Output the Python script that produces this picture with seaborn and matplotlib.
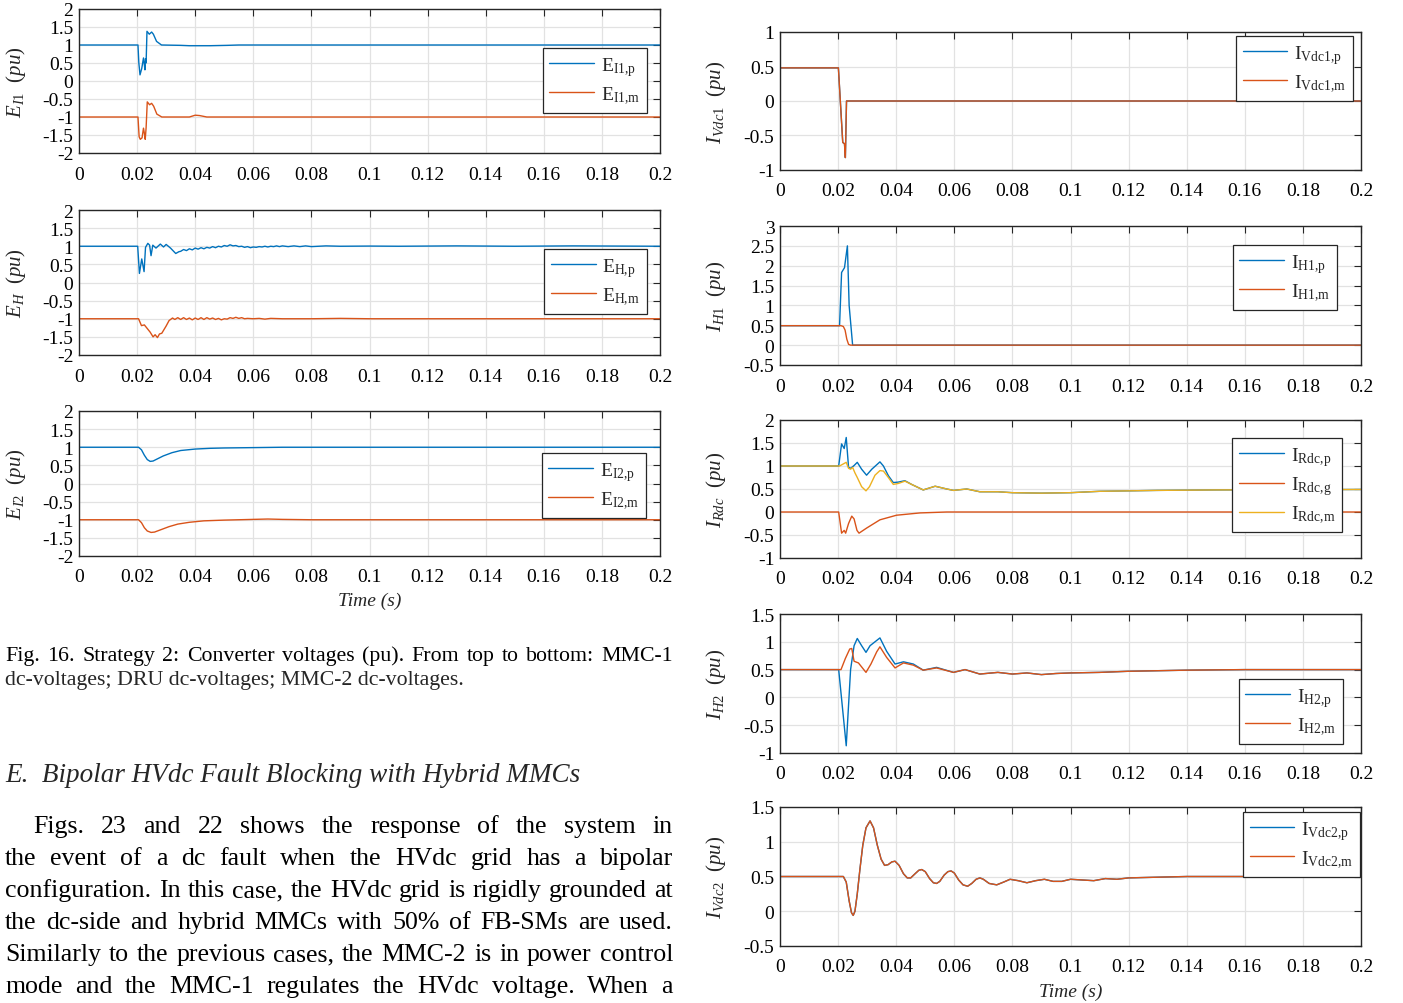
import matplotlib
matplotlib.use("Agg")
import numpy as np
import pandas as pd
import matplotlib.pyplot as plt
import seaborn as sns

# ---------------------------------------------------------------- data
x_ticks = [0, 0.02, 0.04, 0.06, 0.08, 0.1, 0.12, 0.14, 0.16, 0.18, 0.2]
x_tick_labels = ["0", "0.02", "0.04", "0.06", "0.08", "0.1", "0.12", "0.14", "0.16", "0.18", "0.2"]

# MMC-1 dc voltages
t_EI1_p = [0, 0.0203, 0.0206, 0.0210, 0.0216, 0.0222, 0.0225, 0.0227, 0.0229, 0.0231, 0.0234,
           0.0242, 0.0250, 0.0256, 0.0267, 0.0284, 0.035, 0.038, 0.045, 0.051, 0.055, 0.2]
v_EI1_p = [1.0, 1.0, 0.5, 0.17, 0.35, 0.64, 0.45, 0.31, 0.62, 0.50, 1.38,
           1.30, 1.36, 1.30, 1.10, 1.0, 0.99, 0.98, 0.98, 0.99, 1.0, 1.0]
t_EI1_m = [0, 0.0203, 0.0207, 0.0211, 0.0217, 0.0222, 0.0225, 0.0228, 0.0231, 0.0235,
           0.0243, 0.0250, 0.0257, 0.0268, 0.0285, 0.038, 0.040, 0.0415, 0.044, 0.2]
v_EI1_m = [-1.0, -1.0, -1.55, -1.62, -1.58, -1.31, -1.45, -1.62, -1.30, -0.58,
           -0.66, -0.62, -0.70, -0.92, -1.0, -1.0, -0.95, -0.96, -1.0, -1.0]

# DRU dc voltages
t_EH_p = [0, 0.0202, 0.0208, 0.0216, 0.0224, 0.0229, 0.0237, 0.0243, 0.0248, 0.0254, 0.0265,
          0.0280, 0.0291, 0.0300, 0.0315, 0.0333, 0.0344,
          0.035, 0.036, 0.037, 0.038, 0.039, 0.040, 0.041, 0.042, 0.043, 0.044, 0.045, 0.046,
          0.047, 0.048, 0.049, 0.050, 0.051, 0.052, 0.053, 0.054, 0.055, 0.056, 0.057, 0.058,
          0.059, 0.060, 0.061, 0.062, 0.063, 0.064, 0.065, 0.066, 0.067, 0.068, 0.069, 0.070,
          0.072, 0.074, 0.076, 0.078, 0.080, 0.085, 0.090, 0.100, 0.110, 0.130, 0.150, 0.170, 0.200]
v_EH_p = [1.0, 1.0, 0.25, 0.65, 0.30, 0.97, 1.08, 1.03, 0.74, 1.03, 0.95,
          1.06, 0.98, 1.05, 0.95, 0.80, 0.85,
          0.86, 0.91, 0.88, 0.93, 0.90, 0.95, 0.92, 0.96, 0.93, 0.97, 0.95, 0.99,
          0.96, 1.00, 0.98, 1.02, 1.00, 1.04, 1.01, 1.02, 0.99, 1.00, 0.97, 0.99,
          0.96, 0.98, 0.97, 0.99, 0.98, 1.00, 0.98, 1.00, 0.99, 1.01, 0.99, 1.01,
          0.99, 1.01, 0.99, 1.01, 0.99, 1.01, 1.0, 1.005, 1.0, 1.01, 1.0, 1.01, 1.0]
t_EH_m = [0, 0.0205, 0.0215, 0.0225, 0.0230, 0.0245, 0.0255, 0.0262, 0.0270, 0.0277, 0.0285,
          0.0300, 0.0310, 0.0322, 0.0330,
          0.034, 0.035, 0.036, 0.037, 0.038, 0.039, 0.040, 0.041, 0.042, 0.043, 0.044, 0.045,
          0.046, 0.047, 0.048, 0.049, 0.050, 0.051, 0.052, 0.053, 0.054, 0.055, 0.056, 0.057, 0.058,
          0.060, 0.062, 0.064, 0.066, 0.070, 0.080, 0.090, 0.100, 0.200]
v_EH_m = [-1.0, -1.0, -1.19, -1.17, -1.22, -1.37, -1.50, -1.44, -1.52, -1.42, -1.40,
          -1.20, -1.05, -0.98, -1.02,
          -0.97, -1.02, -0.97, -1.02, -0.98, -1.03, -0.98, -1.02, -0.97, -1.02, -0.97, -1.01,
          -0.98, -1.02, -0.99, -1.03, -1.00, -1.01, -0.97, -0.99, -0.96, -0.99, -0.97, -1.00, -0.99,
          -1.00, -0.99, -1.01, -0.99, -1.00, -1.00, -0.99, -1.00, -1.00]

# MMC-2 dc voltages
t_EI2_p = [0, 0.0205, 0.0215, 0.0225, 0.0235, 0.0245, 0.0255, 0.027, 0.029, 0.032, 0.035,
           0.040, 0.045, 0.050, 0.060, 0.070, 0.200]
v_EI2_p = [1.0, 1.0, 0.93, 0.78, 0.66, 0.61, 0.62, 0.68, 0.76, 0.85, 0.91,
           0.95, 0.97, 0.98, 0.99, 1.0, 1.0]
t_EI2_m = [0, 0.0205, 0.0215, 0.0225, 0.0235, 0.0248, 0.026, 0.028, 0.031, 0.034, 0.038,
           0.043, 0.050, 0.060, 0.065, 0.070, 0.080, 0.200]
v_EI2_m = [-1.0, -1.0, -1.08, -1.22, -1.31, -1.35, -1.34, -1.28, -1.19, -1.12, -1.07,
           -1.03, -1.01, -0.99, -0.98, -0.99, -1.0, -1.0]

# currents
t_IVdc1_p = [0, 0.0201, 0.0216, 0.0222, 0.0225, 0.0229, 0.2]
v_IVdc1_p = [0.48, 0.48, -0.60, -0.62, -0.82, 0.0, 0.0]
t_IVdc1_m = [0, 0.0201, 0.0216, 0.0222, 0.0225, 0.0229, 0.2]
v_IVdc1_m = [0.48, 0.48, -0.60, -0.62, -0.82, 0.0, 0.0]

t_IH1_p = [0, 0.0205, 0.0212, 0.0222, 0.0232, 0.0238, 0.0250, 0.200]
v_IH1_p = [0.49, 0.49, 1.83, 1.95, 2.50, 1.0, 0.0, 0.0]
t_IH1_m = [0, 0.0210, 0.0218, 0.0224, 0.0230, 0.0236, 0.0243, 0.200]
v_IH1_m = [0.49, 0.49, 0.47, 0.38, 0.15, 0.02, 0.0, 0.0]

t_IRdc_p = [0, 0.0202, 0.0212, 0.0221, 0.0228, 0.0236, 0.0243, 0.0255, 0.0266, 0.0281, 0.0298,
            0.0316, 0.0344, 0.0356, 0.0373, 0.0390, 0.0407, 0.0430, 0.0453, 0.0493, 0.0534,
            0.0574, 0.0597, 0.0643, 0.0688, 0.075, 0.080, 0.090, 0.100, 0.110, 0.120, 0.130,
            0.150, 0.200]
v_IRdc_p = [1.0, 1.0, 1.48, 1.38, 1.62, 0.97, 0.95, 1.01, 1.08, 0.93, 0.80,
            0.93, 1.09, 1.0, 0.79, 0.64, 0.65, 0.68, 0.60, 0.48, 0.56,
            0.50, 0.47, 0.50, 0.44, 0.44, 0.42, 0.41, 0.42, 0.45, 0.46, 0.47,
            0.48, 0.49]
t_IRdc_g = [0, 0.0202, 0.0212, 0.0221, 0.0226, 0.0236, 0.0247, 0.0255, 0.0265, 0.0272, 0.0298,
            0.0344, 0.0401, 0.0482, 0.0574, 0.200]
v_IRdc_g = [0.0, 0.0, -0.46, -0.40, -0.46, -0.25, -0.09, -0.15, -0.40, -0.46, -0.35,
            -0.17, -0.07, -0.02, 0.0, 0.0]
t_IRdc_m = [0, 0.0205, 0.0228, 0.0236, 0.0243, 0.0250, 0.0258, 0.0266, 0.0281, 0.0296, 0.0308,
            0.0327, 0.0344, 0.0356, 0.0373, 0.0390, 0.0407, 0.0430, 0.0453, 0.0493, 0.0534,
            0.0574, 0.0597, 0.0643, 0.0688, 0.075, 0.080, 0.090, 0.100, 0.110, 0.120, 0.130,
            0.150, 0.200]
v_IRdc_m = [1.0, 1.0, 1.08, 0.95, 0.93, 0.97, 0.85, 0.75, 0.55, 0.46, 0.55,
            0.80, 0.90, 0.89, 0.75, 0.60, 0.62, 0.67, 0.60, 0.48, 0.56,
            0.50, 0.47, 0.50, 0.44, 0.44, 0.42, 0.41, 0.42, 0.45, 0.46, 0.47,
            0.48, 0.49]

t_IH2_p = [0, 0.0202, 0.0228, 0.0243, 0.0255, 0.0266, 0.0281, 0.0296, 0.0310, 0.0344, 0.0367,
           0.0396, 0.0425, 0.0459, 0.0493, 0.0539, 0.0597, 0.0637, 0.0688, 0.075, 0.080, 0.085,
           0.090, 0.095, 0.100, 0.110, 0.120, 0.140, 0.160, 0.200]
v_IH2_p = [0.5, 0.5, -0.87, 0.5, 0.93, 1.06, 0.93, 0.81, 0.93, 1.07, 0.83,
           0.60, 0.64, 0.60, 0.49, 0.54, 0.45, 0.50, 0.42, 0.45, 0.42, 0.44,
           0.41, 0.43, 0.44, 0.45, 0.47, 0.49, 0.50, 0.50]
t_IH2_m = [0, 0.0210, 0.0225, 0.0240, 0.0247, 0.0255, 0.0270, 0.0296, 0.0313, 0.0333, 0.0344,
           0.0367, 0.0396, 0.0425, 0.0459, 0.0493, 0.0539, 0.0597, 0.0637, 0.0688, 0.075, 0.080,
           0.085, 0.090, 0.095, 0.100, 0.110, 0.120, 0.140, 0.160, 0.200]
v_IH2_m = [0.5, 0.5, 0.70, 0.87, 0.88, 0.65, 0.62, 0.45, 0.60, 0.82, 0.91,
           0.72, 0.53, 0.62, 0.58, 0.49, 0.53, 0.45, 0.50, 0.42, 0.45, 0.42,
           0.44, 0.41, 0.43, 0.44, 0.45, 0.47, 0.49, 0.50, 0.50]

t_IVdc2 = [0, 0.0218, 0.0228, 0.0238, 0.0246, 0.0252, 0.0258, 0.0266, 0.0275, 0.0285, 0.0296,
           0.0310, 0.0322, 0.0335, 0.0348, 0.0360, 0.0372, 0.0385, 0.0396, 0.0410, 0.0425,
           0.0438, 0.0450, 0.0465, 0.0478, 0.0488, 0.0500, 0.0515, 0.0528, 0.0539, 0.0550,
           0.0565, 0.0578, 0.0589, 0.0600, 0.0615, 0.0630, 0.0646, 0.0660, 0.0675, 0.0688,
           0.0700, 0.0720, 0.0746, 0.0770, 0.0792, 0.0820, 0.0850, 0.0880, 0.0910, 0.0940,
           0.0970, 0.1000, 0.1040, 0.1080, 0.1120, 0.1160, 0.1200, 0.1300, 0.1400, 0.2000]
v_IVdc2_p = [0.5, 0.5, 0.42, 0.15, -0.02, -0.06, 0.0, 0.25, 0.6, 0.95, 1.2,
             1.30, 1.2, 0.95, 0.75, 0.66, 0.67, 0.71, 0.72, 0.66, 0.54,
             0.48, 0.48, 0.54, 0.59, 0.60, 0.57, 0.47, 0.41, 0.40, 0.43,
             0.52, 0.57, 0.58, 0.55, 0.45, 0.38, 0.36, 0.40, 0.46, 0.48,
             0.46, 0.40, 0.38, 0.42, 0.46, 0.44, 0.41, 0.44, 0.46, 0.43,
             0.43, 0.46, 0.45, 0.44, 0.47, 0.46, 0.48, 0.49, 0.50, 0.50]
v_IVdc2_m = [0.5, 0.5, 0.42, 0.15, -0.02, -0.06, 0.0, 0.25, 0.6, 0.95, 1.2,
             1.30, 1.2, 0.95, 0.75, 0.66, 0.67, 0.71, 0.72, 0.66, 0.54,
             0.48, 0.48, 0.54, 0.59, 0.60, 0.57, 0.47, 0.41, 0.40, 0.43,
             0.52, 0.57, 0.58, 0.55, 0.45, 0.38, 0.36, 0.40, 0.46, 0.48,
             0.46, 0.40, 0.38, 0.42, 0.46, 0.44, 0.41, 0.44, 0.46, 0.43,
             0.43, 0.46, 0.45, 0.44, 0.47, 0.46, 0.48, 0.49, 0.50, 0.50]

caption_lines = ["Fig. 16.  Strategy 2: Converter voltages (pu). From top to bottom: MMC-1",
                 "dc-voltages; DRU dc-voltages; MMC-2 dc-voltages."]
heading_text = "E.  Bipolar HVdc Fault Blocking with Hybrid MMCs"
para_lines = ["Figs. 23 and 22 shows the response of the system in",
              "the event of a dc fault when the HVdc grid has a bipolar",
              "configuration. In this case, the HVdc grid is rigidly grounded at",
              "the dc-side and hybrid MMCs with 50% of FB-SMs are used.",
              "Similarly to the previous cases, the MMC-2 is in power control",
              "mode and the MMC-1 regulates the HVdc voltage. When a"]

# ---------------------------------------------------------------- style
BLUE, ORANGE, YELLOW = "#0072BD", "#D95319", "#EDB120"
DARK = "#262626"

sns.set_theme(style="white")
plt.rcParams.update({
    "font.family": ["Liberation Serif", "DejaVu Serif"],
    "mathtext.fontset": "custom",
    "mathtext.rm": "Liberation Serif",
    "mathtext.it": "Liberation Serif:italic",
    "mathtext.bf": "Liberation Serif:bold",
    "axes.unicode_minus": False,
})

W, H = 1403, 1004
fig = plt.figure(figsize=(W / 100, H / 100), dpi=100)
fig.patch.set_facecolor("white")

def add_ax(x0, y0, x1, y1):
    return fig.add_axes([x0 / W, 1 - y1 / H, (x1 - x0) / W, (y1 - y0) / H])

def leg(sub):
    body = sub[1:].replace(",", "{,}")
    return r"$\mathregular{" + sub[0] + "}_{\mathregular{" + body + "}}$"

panels = [
    dict(box=(79, 10, 660, 154), ylim=(-2, 2), ylabel=r"$E_{I1}\ \ (pu)$",
         series=[(t_EI1_p, v_EI1_p, BLUE, leg("EI1,p")), (t_EI1_m, v_EI1_m, ORANGE, leg("EI1,m"))],
         anchor=(0.9776, 0.729)),
    dict(box=(79, 211, 660, 356), ylim=(-2, 2), ylabel=r"$E_{H}\ \ (pu)$",
         series=[(t_EH_p, v_EH_p, BLUE, leg("EH,p")), (t_EH_m, v_EH_m, ORANGE, leg("EH,m"))],
         anchor=(0.9776, 0.731)),
    dict(box=(79, 412, 660, 557), ylim=(-2, 2), ylabel=r"$E_{I2}\ \ (pu)$",
         series=[(t_EI2_p, v_EI2_p, BLUE, leg("EI2,p")), (t_EI2_m, v_EI2_m, ORANGE, leg("EI2,m"))],
         anchor=(0.976, 0.710), xlabel=True),
    dict(box=(780, 33, 1361, 171), ylim=(-1, 1), ylabel=r"$I_{Vdc1}\ \ (pu)$",
         series=[(t_IVdc1_p, v_IVdc1_p, BLUE, leg("IVdc1,p")), (t_IVdc1_m, v_IVdc1_m, ORANGE, leg("IVdc1,m"))],
         anchor=(0.9862, 0.971)),
    dict(box=(780, 227, 1361, 366), ylim=(-0.5, 3), ylabel=r"$I_{H1}\ \ (pu)$",
         series=[(t_IH1_p, v_IH1_p, BLUE, leg("IH1,p")), (t_IH1_m, v_IH1_m, ORANGE, leg("IH1,m"))],
         anchor=(0.9587, 0.863)),
    dict(box=(780, 421, 1361, 559), ylim=(-1, 2), ylabel=r"$I_{Rdc}\ \ (pu)$",
         series=[(t_IRdc_p, v_IRdc_p, BLUE, leg("IRdc,p")), (t_IRdc_g, v_IRdc_g, ORANGE, leg("IRdc,g")),
                 (t_IRdc_m, v_IRdc_m, YELLOW, leg("IRdc,m"))],
         anchor=(0.9673, 0.870)),
    dict(box=(780, 615, 1361, 754), ylim=(-1, 1.5), ylabel=r"$I_{H2}\ \ (pu)$",
         series=[(t_IH2_p, v_IH2_p, BLUE, leg("IH2,p")), (t_IH2_m, v_IH2_m, ORANGE, leg("IH2,m"))],
         anchor=(0.969, 0.532)),
    dict(box=(780, 808, 1361, 947), ylim=(-0.5, 1.5), ylabel=r"$I_{Vdc2}\ \ (pu)$",
         series=[(t_IVdc2, v_IVdc2_p, BLUE, leg("IVdc2,p")), (t_IVdc2, v_IVdc2_m, ORANGE, leg("IVdc2,m"))],
         anchor=(0.9985, 0.964), xlabel=True),
]

for p in panels:
    x0, y0, x1, y1 = p["box"]
    ax = add_ax(x0, y0, x1, y1)
    for t, v, c, lab in p["series"]:
        df = pd.DataFrame({"t": t, "v": v})
        sns.lineplot(data=df, x="t", y="v", ax=ax, color=c, lw=1.0,
                     estimator=None, sort=False, label=lab)
    ax.set_xlim(0, 0.2)
    ax.set_ylim(*p["ylim"])
    ax.set_xticks(x_ticks)
    ax.set_xticklabels(x_tick_labels)
    yt = np.arange(p["ylim"][0], p["ylim"][1] + 1e-9, 0.5)
    ax.set_yticks(yt)
    ax.set_yticklabels(["%g" % (0 if abs(v) < 1e-9 else v) for v in yt])
    ax.set_axisbelow(True)
    ax.grid(True, color="#e2e2e2", lw=0.9)
    ax.tick_params(axis="both", direction="in", top=True, right=True, length=5,
                   width=0.8, color=DARK, labelsize=14, labelcolor="black")
    ax.tick_params(axis="x", pad=9)
    ax.tick_params(axis="y", pad=4)
    for s in ax.spines.values():
        s.set_color(DARK)
        s.set_linewidth(1.0)
    ax.set_ylabel(p["ylabel"], fontsize=15, va="center", ha="center")
    ax.yaxis.set_label_coords((16 - x0) / (x1 - x0) if x0 < 700 else (716 - x0) / (x1 - x0), 0.5)
    if p.get("xlabel"):
        ax.set_xlabel("Time (s)", fontsize=14, fontstyle="italic", va="center")
        ax.xaxis.set_label_coords(0.5, -(44 if x0 < 700 else 45) / (y1 - y0))
    else:
        ax.set_xlabel("")
    ax.legend(loc="upper right", bbox_to_anchor=p["anchor"], borderaxespad=0,
              fontsize=14, frameon=True, fancybox=False, framealpha=1,
              edgecolor=DARK, handlelength=2.3, handletextpad=0.35,
              labelspacing=0.35, borderpad=0.35)
    ax.get_legend().get_frame().set_linewidth(0.9)

# ---------------------------------------------------------------- page text
renderer = fig.canvas.get_renderer()

def width_of(s, fs, style="normal"):
    t = fig.text(0, 0, s, fontsize=fs, fontstyle=style)
    w = t.get_window_extent(renderer).width
    t.remove()
    return w

def justify(line, x0, x1, base, fs, style="normal"):
    words = line.split()
    objs = [fig.text(0, 1 - base / H, w, fontsize=fs, fontstyle=style, va="baseline",
                     ha="left", color="black") for w in words]
    ws = [o.get_window_extent(renderer).width for o in objs]
    gap = (x1 - x0 - sum(ws)) / max(len(words) - 1, 1)
    x = x0
    for o, w in zip(objs, ws):
        o.set_x(x / W)
        x += w + gap

# caption
cap_fs = 14.5
nat = width_of(caption_lines[0], cap_fs)
cap_fs = cap_fs * 652 / nat
justify(caption_lines[0], 5, 673, 661, cap_fs)
fig.text(5 / W, 1 - 685 / H, caption_lines[1], fontsize=cap_fs, va="baseline", ha="left")

# heading
hd_fs = 19
nat = width_of(heading_text, hd_fs, "italic")
hd_fs = hd_fs * 577 / nat
fig.text(5 / W, 1 - 782 / H, heading_text, fontsize=hd_fs, fontstyle="italic",
         va="baseline", ha="left")

# paragraph
p_fs = 19
starts = [33, 5, 5, 5, 5, 5]
ratio = min((673 - s) / width_of(l, p_fs) for s, l in zip(starts, para_lines))
p_fs = min(p_fs, p_fs * ratio * 0.985)
for i, (s, l) in enumerate(zip(starts, para_lines)):
    justify(l, s, 673, 833 + 32 * i, p_fs)

fig.savefig("out.png", dpi=100, facecolor="white")
